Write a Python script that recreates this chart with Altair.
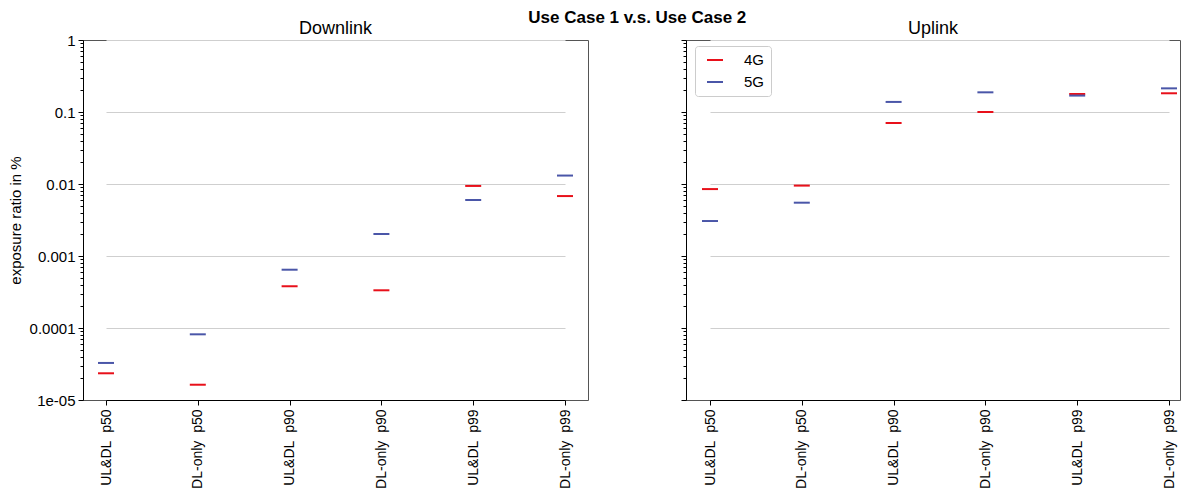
import altair as alt
import pandas as pd

categories = ["UL&DL\u00a0\u00a0p50", "DL-only\u00a0\u00a0p50", "UL&DL\u00a0\u00a0p90",
              "DL-only\u00a0\u00a0p90", "UL&DL\u00a0\u00a0p99", "DL-only\u00a0\u00a0p99"]
techs = ["4G", "5G"]
dl_4g = [2.35e-5, 1.63e-5, 3.8e-4, 3.34e-4, 9.4e-3, 6.8e-3]
dl_5g = [3.27e-5, 8.17e-5, 6.45e-4, 2.02e-3, 6.0e-3, 1.31e-2]
ul_4g = [8.5e-3, 9.5e-3, 0.0703, 0.1, 0.178, 0.182]
ul_5g = [3.06e-3, 5.5e-3, 0.138, 0.1876, 0.169, 0.213]
colors = ["#e8101a", "#4a56a8"]

def frame(v4, v5):
    rows = []
    for c, a, b in zip(categories, v4, v5):
        rows.append({"cat": c, "tech": "4G", "val": a})
        rows.append({"cat": c, "tech": "5G", "val": b})
    return pd.DataFrame(rows)

df_dl = frame(dl_4g, dl_5g)
df_ul = frame(ul_4g, ul_5g)

decades = [1e-5, 1e-4, 1e-3, 1e-2, 1e-1, 1.0]
tick_vals = list(decades)
for d in decades[:-1]:
    for m in range(2, 10):
        tick_vals.append(m * d)

is_dec = "abs(log(datum.value)/LN10 - round(log(datum.value)/LN10)) < 1e-6"
label_expr = f"({is_dec}) ? (datum.value < 5e-5 ? '1e-05' : format(datum.value, '~g')) : ''"

FONT = "Liberation Sans"

def panel(df, title, show_labels, xrange, title_offset, width):
    yaxis = alt.Axis(
        values=tick_vals,
        labelExpr=label_expr,
        labels=show_labels,
        title="exposure ratio in %" if show_labels else None,
        titleFontSize=15, titleFontWeight="normal", titleColor="black",
        titlePadding=5.5,
        labelFontSize=15, labelColor="black", labelPadding=3,
        tickSize={"condition": {"test": is_dec, "value": 5}, "value": 3},
        tickColor="black",
        gridOpacity={"condition": {"test": is_dec, "value": 1}, "value": 0},
        gridColor="#cfcfcf",
        domainColor="black",
        labelFlush=False,
    )
    xaxis = alt.Axis(
        title=None, labelAngle=-90, labelFontSize=14, labelColor="black",
        tickSize=5, tickColor="black", domainColor="black", labelPadding=4,
        grid=False,
    )
    return alt.Chart(df).mark_tick(size=16, thickness=2, opacity=1).encode(
        x=alt.X("cat:N", sort=categories,
                scale=alt.Scale(type="point", range=xrange, padding=0), axis=xaxis),
        y=alt.Y("val:Q", scale=alt.Scale(type="log", domain=[1e-5, 1]), axis=yaxis),
        color=alt.Color("tech:N", scale=alt.Scale(domain=techs, range=colors),
                        legend=alt.Legend(
                            title=None, orient="none", legendX=612, legendY=6,
                            symbolType="M-1,-0.125L1,-0.125L1,0.125L-1,0.125Z",
                            symbolSize=256, symbolStrokeWidth=0, symbolOpacity=1,
                            symbolOffset=6,
                            labelFontSize=15, labelColor="black", labelOffset=21,
                            strokeColor="#cccccc", fillColor="white", cornerRadius=3,
                            padding=6, rowPadding=6)),
    ).properties(
        width=width, height=360,
        title=alt.Title(title, fontSize=18, fontWeight="normal", color="black",
                        offset=title_offset, font=FONT),
    )

left = panel(df_dl, "Downlink", True, [23, 482], -5, 505)
right = panel(df_ul, "Uplink", False, [24, 483], 2, 494)

chart = alt.hconcat(left, right, spacing=91).properties(
    padding=0,
    title=alt.Title("Use Case 1 v.s. Use Case 2", fontSize=17, fontWeight="bold",
                    color="black", offset=-7.5, anchor="middle", dx=43, font=FONT),
).configure(font=FONT).configure_view(stroke="#555555", strokeWidth=1)

chart.save("out.html", embed_options={"renderer": "svg", "actions": False})
